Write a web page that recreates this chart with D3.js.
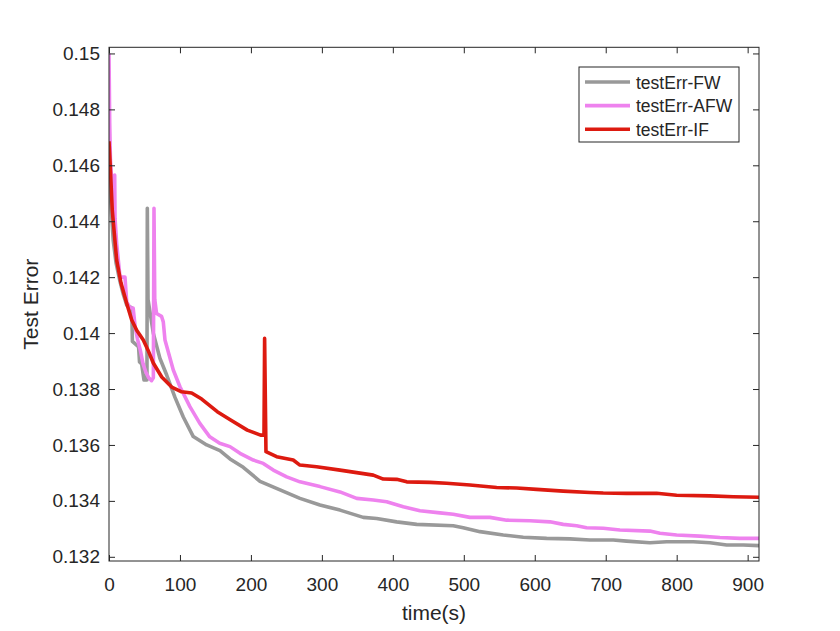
<!DOCTYPE html>
<head>
<meta charset="utf-8">
<style>
  body { margin: 0; background: #fff; }
  svg { display: block; font-family: "Liberation Sans", Arial, sans-serif; }
  .tick text { fill: #262626; }
</style>
</head>
<body>
  <svg width="840" height="631"></svg>

  <script src="https://d3js.org/d3.v7.min.js"></script>
  <script>
  // test error over time for the three methods
  const tFW = [0, 3, 6, 10, 15, 20, 25, 32, 33, 41.7, 43, 46, 49.3, 53.5, 54, 55, 62.4, 71.7, 81.3, 93,
    104.7, 118.8, 137.7, 156.4, 170.5, 189.2, 212.8, 241, 269.1, 297.3, 325.5, 358.3, 377.2, 405.4, 433.6,
    485.1, 499.2, 522.8, 555.6, 583.8, 616.7, 649.6, 677.8, 710.6, 729.5, 762.3, 785.8, 823.3, 846.9,
    870.4, 893.8, 916];
  const errFW = [0.1458, 0.1445, 0.1433, 0.1425, 0.1419, 0.1414, 0.1410, 0.1409, 0.1397, 0.13951, 0.13897,
    0.1389, 0.13832, 0.13832, 0.14446, 0.1412, 0.1400, 0.1391, 0.1385, 0.1377, 0.1370, 0.1363, 0.1360,
    0.1358, 0.1355, 0.1352, 0.1347, 0.13439, 0.13409, 0.13385, 0.13367, 0.13341, 0.13337, 0.13325,
    0.13316, 0.13311, 0.13304, 0.1329, 0.13278, 0.1327, 0.13266, 0.13264, 0.1326, 0.1326, 0.13256,
    0.1325, 0.13254, 0.13254, 0.1325, 0.13242, 0.13242, 0.1324];

  const tAFW = [0, 1, 2, 5, 7.5, 8, 8.5, 10.8, 15.5, 22.5, 25, 30, 34, 37, 40, 44, 48, 52, 56, 60,
    62.5, 63.4, 64.5, 67, 74, 76.5, 78.9, 90.6, 100, 114, 128, 142, 156, 170.5, 184.6, 203.3, 217.4, 231.5,
    250.4, 269.1, 297.3, 325.5, 349, 372.4, 391.3, 414.7, 438.2, 466.4, 485.1, 508.7, 536.8, 560.4, 593.2,
    621.4, 640.1, 659, 673, 696.5, 720, 762.3, 776.4, 799.9, 832.7, 860.9, 889, 916];
  const errAFW = [0.15, 0.1475, 0.1462, 0.1449, 0.1444, 0.14565, 0.1441, 0.1432, 0.1420, 0.1420,
    0.1411, 0.1409, 0.1409, 0.1402, 0.1398, 0.1394, 0.1389, 0.1386, 0.1384, 0.1383,
    0.1384, 0.14446, 0.1412, 0.1407, 0.1406, 0.1404, 0.13975, 0.13868, 0.13808, 0.13737,
    0.13677, 0.13629, 0.13606, 0.13594, 0.1357, 0.13546, 0.13534, 0.1351, 0.13486, 0.13468,
    0.13451, 0.13432, 0.13409, 0.13403, 0.13397, 0.13379, 0.13365, 0.13357, 0.13352, 0.13341,
    0.13341, 0.13331, 0.13329, 0.13325, 0.13316, 0.13311, 0.13304, 0.13302, 0.13296, 0.13292,
    0.13284, 0.13278, 0.13274, 0.13269, 0.13266, 0.13266];

  const tIF = [0, 1.4, 4.6, 10.8, 16.9, 24.9, 32, 39, 48.3, 55, 62.4, 74.3, 88.3, 102.4, 116.5, 130.6,
    152.6, 171.4, 194.9, 213.6, 218.4, 219.3, 221.2, 236.2, 259.6, 269, 292.5, 325.5, 349, 372.4, 386.5,
    405.4, 419.5, 452.3, 475.8, 508.7, 546.3, 574.5, 602.6, 640.1, 677.8, 696.5, 729.5, 771.7, 799.9,
    846.9, 879.7, 916];
  const errIF = [0.14686, 0.14618, 0.1444, 0.14261, 0.14179, 0.14107, 0.14047, 0.1401, 0.13975, 0.13939,
    0.13893, 0.13843, 0.13807, 0.1379, 0.13786, 0.13764, 0.13719, 0.13689, 0.13653, 0.13635,
    0.13635, 0.13981, 0.13576, 0.13558, 0.13546, 0.13528, 0.13522, 0.1351, 0.13501, 0.13492,
    0.13478, 0.13477, 0.13468, 0.13466, 0.13463, 0.13457, 0.13448, 0.13446, 0.13441, 0.13435,
    0.1343, 0.13428, 0.13427, 0.13427, 0.1342, 0.13418, 0.13415, 0.13413];

  const seriesNames = ['testErr-FW', 'testErr-AFW', 'testErr-IF'];
  const seriesColors = ['#999999', '#ee82ee', '#dd1a10'];
  const xTicks = [0, 100, 200, 300, 400, 500, 600, 700, 800, 900];
  const yTicks = [0.132, 0.134, 0.136, 0.138, 0.14, 0.142, 0.144, 0.146, 0.148, 0.15];

  const plotL = 109, plotR = 759, plotT = 47.3, plotB = 561;
  const ink = '#262626';

  const svg = d3.select('svg');
  svg.append('rect').attr('width', 840).attr('height', 631).attr('fill', '#fff');

  const x = d3.scaleLinear().domain([0, 916]).range([plotL, plotR]);
  const y = d3.scaleLinear().domain([0.13185, 0.15022]).range([plotB, plotT]);

  svg.append('clipPath').attr('id', 'plotClip')
    .append('rect')
    .attr('x', plotL).attr('y', plotT)
    .attr('width', plotR - plotL).attr('height', plotB - plotT);

  const series = [
    { name: seriesNames[0], color: seriesColors[0], pts: d3.zip(tFW, errFW) },
    { name: seriesNames[1], color: seriesColors[1], pts: d3.zip(tAFW, errAFW) },
    { name: seriesNames[2], color: seriesColors[2], pts: d3.zip(tIF, errIF) }
  ];

  const line = d3.line().x(d => x(d[0])).y(d => y(d[1]));

  svg.append('g').attr('clip-path', 'url(#plotClip)')
    .selectAll('path')
    .data(series)
    .enter()
    .append('path')
    .attr('d', d => line(d.pts))
    .attr('fill', 'none')
    .attr('stroke', d => d.color)
    .attr('stroke-width', 3.6)
    .attr('stroke-linejoin', 'round');

  // axes, with inward ticks mirrored on top and right like a boxed plot
  const styleAxis = g => {
    g.select('.domain').remove();
    g.selectAll('.tick line').attr('stroke', ink);
    g.selectAll('.tick text').attr('font-size', 19);
  };

  svg.append('g')
    .attr('transform', `translate(0,${plotB})`)
    .call(d3.axisBottom(x).tickValues(xTicks).tickSize(-6).tickPadding(17).tickFormat(d3.format('d')))
    .call(styleAxis);
  svg.append('g')
    .attr('transform', `translate(${plotL},0)`)
    .call(d3.axisLeft(y).tickValues(yTicks).tickSize(-6).tickPadding(9).tickFormat(d3.format('~g')))
    .call(styleAxis);
  svg.append('g')
    .attr('transform', `translate(0,${plotT})`)
    .call(d3.axisTop(x).tickValues(xTicks).tickSize(-6).tickFormat(''))
    .call(styleAxis);
  svg.append('g')
    .attr('transform', `translate(${plotR},0)`)
    .call(d3.axisRight(y).tickValues(yTicks).tickSize(-6).tickFormat(''))
    .call(styleAxis);

  svg.append('rect')
    .attr('x', plotL).attr('y', plotT)
    .attr('width', plotR - plotL).attr('height', plotB - plotT)
    .attr('fill', 'none').attr('stroke', ink).attr('stroke-width', 1);

  svg.append('text')
    .attr('x', (plotL + plotR) / 2).attr('y', 620)
    .attr('text-anchor', 'middle').attr('font-size', 21).attr('fill', ink)
    .text('time(s)');
  svg.append('text')
    .attr('transform', `translate(38,${(plotT + plotB) / 2}) rotate(-90)`)
    .attr('text-anchor', 'middle').attr('font-size', 21).attr('fill', ink)
    .text('Test Error');

  // legend
  const legend = svg.append('g');
  legend.append('rect')
    .attr('x', 579).attr('y', 67).attr('width', 160).attr('height', 75)
    .attr('fill', '#fff').attr('stroke', ink).attr('stroke-width', 1);
  const item = legend.selectAll('g.item')
    .data(series)
    .enter()
    .append('g')
    .attr('class', 'item')
    .attr('transform', (d, i) => `translate(0,${82 + i * 23.6})`);
  item.append('line')
    .attr('x1', 585).attr('x2', 630)
    .attr('stroke', d => d.color).attr('stroke-width', 3.6);
  item.append('text')
    .attr('x', 636).attr('y', 6.5)
    .attr('font-size', 17.5).attr('fill', ink)
    .text(d => d.name);
  </script>
</body>
</html>
